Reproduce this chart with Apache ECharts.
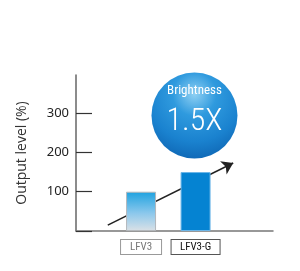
<!DOCTYPE html>
<html><head><meta charset="utf-8">
<script src="https://cdn.jsdelivr.net/npm/echarts@6/dist/echarts.min.js"></script>
<style>html,body{margin:0;padding:0;background:#fff}#c{width:300px;height:271px}</style>
</head><body><div id="c"></div>
<script>
const categories = ['LFV3', 'LFV3-G'];
const outputLevels = [100, 150];
const yTickValues = [0, 100, 200, 300];
const yLabelValues = [100, 200, 300];
const trendArrow = [[0.39, 15], [2.69, 173]];
const badge = { x: 1.98, y: 294, title: 'Brightness', value: '1.5X' };

const narrow = '"Liberation Sans Narrow", "Roboto Condensed", "Noto Sans", sans-serif';
const chart = echarts.init(document.getElementById('c'), null, { renderer: 'canvas' });

const barColors = [
  { type: 'linear', x: 0, y: 0, x2: 0, y2: 1, colorStops: [
    { offset: 0, color: '#1ea2e0' }, { offset: 0.55, color: '#8cc8ec' }, { offset: 1, color: '#dbe1e6' }] },
  '#0583d2'
];
const barBorders = ['#b4b8bc', '#6cb6e8'];
const labelColors = ['#777', '#111'];
const labelBorders = ['#999', '#555'];

chart.setOption({
  animation: false,
  grid: { left: 76, right: 27, top: 75, bottom: 40 },
  xAxis: {
    type: 'value', min: -0.193, max: 3.42,
    splitLine: { show: false },
    axisLine: { show: true, onZero: false, lineStyle: { color: '#777', width: 1.5 } },
    axisTick: { show: false }, axisLabel: { show: false }
  },
  yAxis: {
    type: 'value', min: 0, max: 397, interval: 100,
    name: 'Output level (%)', nameLocation: 'middle', nameGap: 47,
    nameTextStyle: { color: '#333', fontSize: 14, fontFamily: '"Open Sans", "Noto Sans", sans-serif' },
    splitLine: { show: false },
    axisLine: { show: true, onZero: false, lineStyle: { color: '#666', width: 1.5 } },
    axisTick: { show: true, inside: true, length: 16, customValues: yTickValues, lineStyle: { color: '#333', width: 1.2 } },
    axisLabel: { customValues: yLabelValues, color: '#222', fontSize: 13, margin: 7, fontFamily: '"Noto Sans", sans-serif' }
  },
  series: [
    {
      type: 'lines', coordinateSystem: 'cartesian2d', z: 1,
      symbol: ['none', 'arrow'], symbolSize: 11,
      lineStyle: { color: '#222', width: 1.6, opacity: 1 },
      data: [{ coords: trendArrow }]
    },
    {
      type: 'bar', z: 3, barWidth: 30,
      data: outputLevels.map((v, i) => ({
        value: [i + 1, v],
        itemStyle: { color: barColors[i], borderColor: barBorders[i], borderWidth: 1 },
        label: {
          show: true, position: 'bottom', distance: 9,
          formatter: categories[i],
          color: labelColors[i], fontSize: 11, fontFamily: narrow,
          borderColor: labelBorders[i], borderWidth: 1, padding: [1, 0, 0, 0],
          width: i === 0 ? 40 : 48, height: 13, lineHeight: 13, align: 'center',
          backgroundColor: '#fff'
        }
      }))
    },
    {
      type: 'scatter', z: 4, symbolSize: 86,
      itemStyle: {
        opacity: 1,
        color: { type: 'radial', x: 0.5, y: 0.25, r: 0.85, colorStops: [
          { offset: 0, color: '#8fd0f3' }, { offset: 0.3, color: '#2f9ade' },
          { offset: 0.65, color: '#1a82cf' }, { offset: 1, color: '#0b5eac' }] }
      },
      label: {
        show: true, position: 'inside', offset: [0, -1],
        formatter: () => '{t|' + badge.title + '}\n{v|' + badge.value + '}',
        rich: {
          t: { color: '#fff', fontSize: 13, fontFamily: narrow, lineHeight: 16, padding: [0, 0, 14, 0] },
          v: { color: '#fff', fontSize: 32, fontFamily: narrow, fontWeight: 300, lineHeight: 34 }
        }
      },
      data: [[badge.x, badge.y]]
    }
  ]
});
</script></body></html>
